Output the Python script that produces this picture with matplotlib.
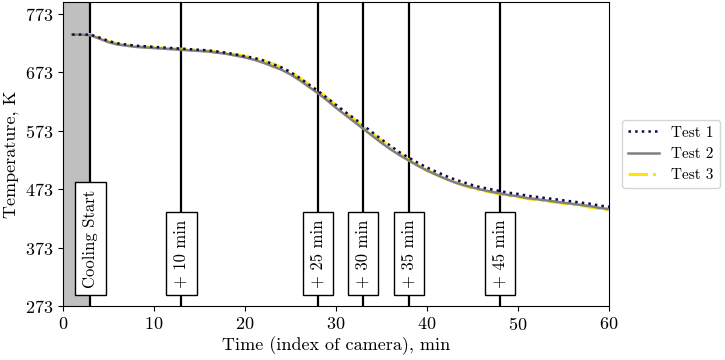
import matplotlib.pyplot as plt

plt.rcParams['font.family'] = 'serif'
plt.rcParams['font.serif'] = ['cmr10']
plt.rcParams['mathtext.fontset'] = 'cm'
plt.rcParams['axes.formatter.use_mathtext'] = True

# time in minutes (index of camera)
t = list(range(1, 61))

test2 = [737, 737, 736, 730, 724, 720, 718, 716, 715, 714,
         713, 712, 711, 710, 709, 708, 706, 704, 701, 698,
         694, 689, 683, 677, 669, 659, 648, 637, 625, 612,
         600, 588, 576, 564, 552, 541, 531, 522, 513, 505,
         498, 491, 485, 480, 476, 472, 469, 466, 463, 461,
         458, 456, 454, 452, 450, 448, 446, 444, 441, 439]
test1 = [737, 737, 737, 732, 726, 722, 720, 718, 717, 716,
         715, 714, 713, 712, 711, 710, 708, 706, 703, 700,
         697, 693, 687, 681, 673, 663, 652, 641, 629, 617,
         605, 594, 582, 570, 558, 547, 536, 527, 518, 510,
         503, 496, 490, 485, 480, 476, 473, 470, 467, 465,
         462, 460, 458, 456, 454, 452, 450, 448, 445, 443]
test3 = [737, 737, 737, 731, 725, 721, 719, 717, 716, 715,
         714, 713, 712, 711, 710, 709, 707, 705, 703, 700,
         697, 692, 687, 681, 673, 663, 652, 641, 629, 616,
         604, 592, 580, 568, 556, 544, 533, 523, 514, 505,
         498, 491, 485, 480, 475, 471, 468, 465, 462, 460,
         457, 455, 453, 451, 449, 447, 445, 442, 440, 437]

events = [3, 13, 28, 33, 38, 48]
event_labels = ['Cooling Start', '+ 10 min', '+ 25 min', '+ 30 min', '+ 35 min', '+ 45 min']
yticks = [273, 373, 473, 573, 673, 773]

fig = plt.figure(figsize=(7.25, 3.6), dpi=100)
ax = fig.add_axes([0.087, 0.149, 0.753, 0.846])

ax.axvspan(0, events[0], color='#bfbfbf', lw=0)
for x, lab in zip(events, event_labels):
    ax.axvline(x, color='black', lw=1.6)
    ax.text(x, 305, lab, rotation=90, ha='center', va='bottom', fontsize=12,
            bbox=dict(boxstyle='square,pad=0.45', fc='white', ec='black', lw=1.0))

ax.plot(t, test3, color='#ffe600', ls='-.', lw=2.2, label='Test 3', zorder=3)
ax.plot(t, test2, color='#808080', ls='-', lw=1.8, label='Test 2', zorder=4)
ax.plot(t, test1, color='#0a0a50', ls=':', lw=1.8, label='Test 1', zorder=5)

ax.set_xlim(0, 60)
ax.set_ylim(273, 793)
ax.set_yticks(yticks)
ax.set_xlabel('Time (index of camera), min', fontsize=13, labelpad=2)
ax.set_ylabel('Temperature, K', fontsize=13)
ax.tick_params(labelsize=13)

h, l = ax.get_legend_handles_labels()
ax.legend(h[::-1], l[::-1], loc='center left', bbox_to_anchor=(1.01, 0.5), fontsize=11)

fig.savefig('out.png', dpi=100)
